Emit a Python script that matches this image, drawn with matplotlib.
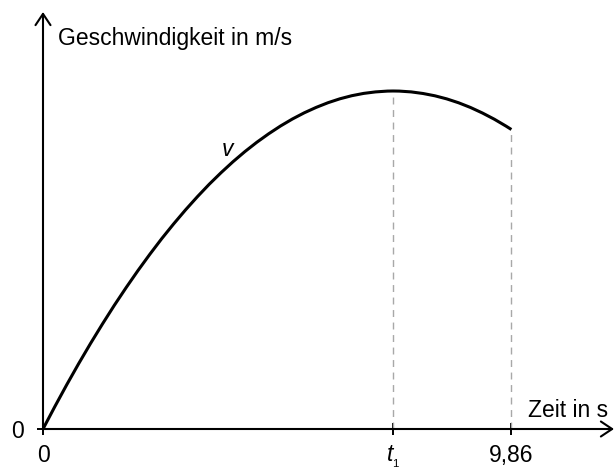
import matplotlib
matplotlib.use("Agg")
import matplotlib.pyplot as plt

plt.rcParams['font.family'] = ['Liberation Sans', 'DejaVu Sans']
plt.rcParams['mathtext.fontset'] = 'custom'
plt.rcParams['mathtext.rm'] = 'Liberation Sans'
plt.rcParams['mathtext.it'] = 'Liberation Sans:italic'

# velocity curve (time in s, arbitrary velocity units)
t_vals = [0, 0.25, 0.5, 0.75, 1, 1.25, 1.5, 1.75, 2, 2.25, 2.5, 2.75, 3,
          3.25, 3.5, 3.75, 4, 4.25, 4.5, 4.75, 5, 5.25, 5.5, 5.75, 6, 6.25,
          6.5, 6.75, 7, 7.25, 7.37, 7.5, 7.75, 8, 8.25, 8.5, 8.75, 9, 9.25,
          9.5, 9.75, 9.86]
v_vals = [0, 2.25, 4.43, 6.53, 8.55, 10.49, 12.36, 14.14, 15.85, 17.48,
          19.04, 20.51, 21.91, 23.23, 24.48, 25.64, 26.73, 27.74, 28.67,
          29.52, 30.30, 31.00, 31.62, 32.16, 32.63, 33.02, 33.33, 33.56,
          33.71, 33.79, 33.80, 33.79, 33.71, 33.55, 33.32, 33.01, 32.62,
          32.15, 31.60, 30.98, 30.28, 29.95]
t1 = 7.37
t_end = 9.86
x_ticks = [0, t1, t_end]
x_labels = ['0', '$t_{_1}$', '9,86']

fig = plt.figure(figsize=(6.16, 4.70), dpi=100)
ax = fig.add_axes([43 / 616, 41 / 470, 571 / 616, 417 / 470])
ax.set_xlim(0, 12.02)
ax.set_ylim(0, 41.7)
for s in ax.spines.values():
    s.set_visible(False)

# axes with arrows
arrow = dict(arrowstyle='->, head_length=0.3, head_width=0.2', lw=1.5,
             color='black', mutation_scale=27, shrinkA=0, shrinkB=0)
ax.annotate('', xy=(1.0, 0), xytext=(0, 0), xycoords='axes fraction',
            arrowprops=arrow)
ax.annotate('', xy=(0, 1.0), xytext=(0, 0), xycoords='axes fraction',
            arrowprops=arrow)

# dashed helper lines
ax.plot([t1, t1], [0, max(v_vals)], ls=(0, (5, 4)), color='#a8a8a8', lw=1)
ax.plot([t_end, t_end], [0, v_vals[-1]], ls=(0, (5, 4)), color='#a8a8a8', lw=1)

ax.plot(t_vals, v_vals, color='black', lw=2.2, solid_capstyle='butt')

ax.set_xticks(x_ticks)
ax.set_xticklabels(x_labels, fontsize=16.5)
ax.set_yticks([0])
ax.set_yticklabels(['0'], fontsize=16.5)
ax.tick_params(axis='both', direction='inout', length=9, width=1.4,
               color='black')
ax.tick_params(axis='x', pad=6)
ax.tick_params(axis='y', pad=9)

ax.text(0.32, 38.4, 'Geschwindigkeit in m/s', fontsize=16.5, va='baseline', ha='left')
ax.text(11.89, 1.2, 'Zeit in s', fontsize=16.5, va='baseline', ha='right')
ax.text(3.89, 27.9, 'v', fontsize=16.5, style='italic', va='center', ha='center')

fig.savefig('out.png', dpi=100)
